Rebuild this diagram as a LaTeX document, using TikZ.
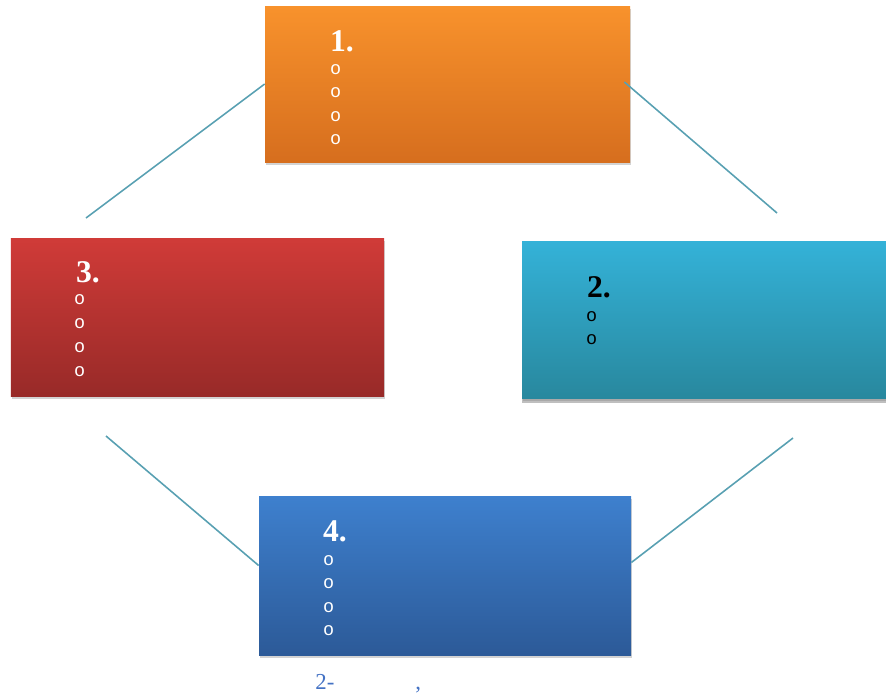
\documentclass[tikz,border=0pt]{standalone}
\usepackage{fontspec}
\setmainfont{Liberation Serif}
\newfontfamily\bulletfont{Liberation Mono}
\usetikzlibrary{shadows}

\definecolor{orangetop}{RGB}{248,146,44}
\definecolor{orangebot}{RGB}{214,110,30}
\definecolor{redtop}{RGB}{208,59,56}
\definecolor{redbot}{RGB}{152,42,40}
\definecolor{tealtop}{RGB}{52,178,216}
\definecolor{tealbot}{RGB}{40,136,158}
\definecolor{bluetop}{RGB}{62,128,206}
\definecolor{bluebot}{RGB}{44,90,152}
\definecolor{linkcol}{RGB}{88,160,178}
\definecolor{capblue}{RGB}{68,114,196}

\tikzset{
  stagebox/.style={rectangle,inner sep=0pt,minimum width=#1,
    drop shadow={shadow xshift=0.6pt,shadow yshift=-1.6pt,opacity=0.35}},
  stagenum/.style={anchor=base west,inner sep=0pt,font=\fontsize{18}{18}\selectfont\bfseries},
  stagebul/.style={inner sep=0pt,font=\bulletfont\fontsize{10.5}{10.5}\selectfont},
  link/.style={linkcol,line width=0.9pt}
}

\begin{document}
\begin{tikzpicture}
  \useasboundingbox (0,0) rectangle (17.72,-13.96);

  % the four boxes
  \node[stagebox=7.3cm,minimum height=3.12cm,top color=orangetop,bottom color=orangebot]
    (box1) at (8.95,-1.68) {};
  \node[stagebox=7.28cm,minimum height=3.14cm,top color=tealtop,bottom color=tealbot,
    drop shadow={shadow xshift=0pt,shadow yshift=-3pt,opacity=0.5}]
    (box2) at (14.08,-6.39) {};
  \node[stagebox=7.46cm,minimum height=3.16cm,top color=redtop,bottom color=redbot]
    (box3) at (3.95,-6.34) {};
  \node[stagebox=7.44cm,minimum height=3.18cm,top color=bluetop,bottom color=bluebot]
    (box4) at (8.90,-11.51) {};

  % numbers and bullets
  \node[stagenum,white] (num1) at ([xshift=1.3cm,yshift=-0.92cm]box1.north west) {1.};
  \foreach \i in {0,...,3}
    \node[stagebul,white] (bul1\i) at ([xshift=1.42cm,yshift={-1.28cm-\i*0.466cm}]box1.north west) {o};

  \node[stagenum,black] (num2) at ([xshift=1.3cm,yshift=-1.14cm]box2.north west) {2.};
  \foreach \i in {0,1}
    \node[stagebul,black] (bul2\i) at ([xshift=1.4cm,yshift={-1.52cm-\i*0.466cm}]box2.north west) {o};

  \node[stagenum,white] (num3) at ([xshift=1.3cm,yshift=-0.9cm]box3.north west) {3.};
  \foreach \i in {0,...,3}
    \node[stagebul,white] (bul3\i) at ([xshift=1.38cm,yshift={-1.24cm-\i*0.48cm}]box3.north west) {o};

  \node[stagenum,white] (num4) at ([xshift=1.28cm,yshift=-0.92cm]box4.north west) {4.};
  \foreach \i in {0,...,3}
    \node[stagebul,white] (bul4\i) at ([xshift=1.4cm,yshift={-1.3cm-\i*0.466cm}]box4.north west) {o};

  % connectors
  \coordinate (end13) at (1.72,-4.36);
  \coordinate (end12) at (15.54,-4.26);
  \coordinate (end34) at (2.12,-8.72);
  \coordinate (end24) at (15.86,-8.76);
  \draw[link] (box1.west) -- (end13);
  \draw[link] ([xshift=-0.12cm,yshift=0.04cm]box1.east) -- (end12);
  \draw[link] (end34) -- ([yshift=0.2cm]box4.west);
  \draw[link] (end24) -- ([yshift=0.26cm]box4.east);

  % caption
  \node[anchor=base west,inner sep=0pt,capblue,font=\fontsize{13}{13}\selectfont] (cap1) at (6.3,-13.78) {2-};
  \node[anchor=base west,inner sep=0pt,capblue,font=\fontsize{13}{13}\selectfont] (cap2) at (8.3,-13.78) {,};
\end{tikzpicture}
\end{document}
